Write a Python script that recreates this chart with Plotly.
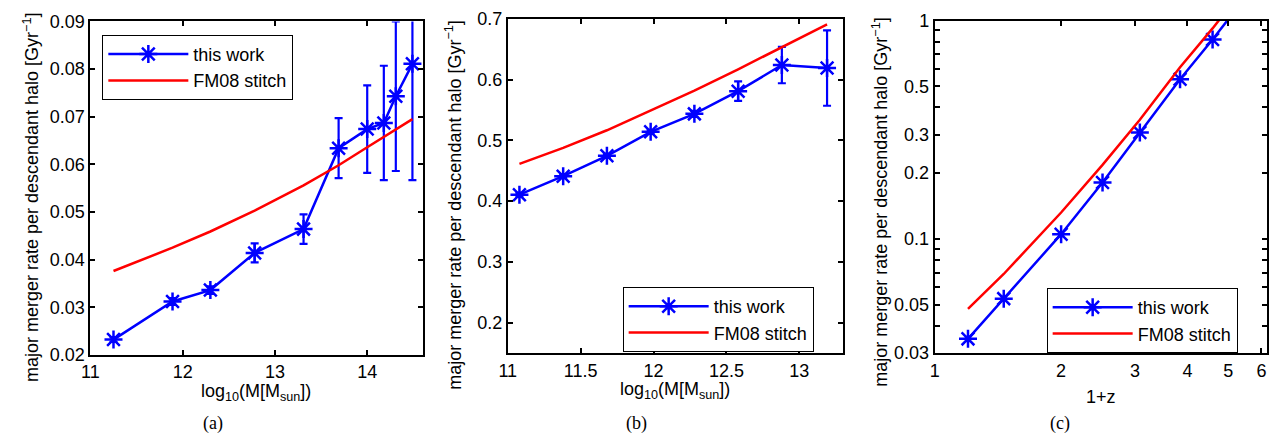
import plotly.graph_objects as go
import numpy as np

W, H = 1281, 447

# ---------------- data ----------------
# panel (a): rate vs halo mass
mass_a = [11.25, 11.89, 12.30, 12.78, 13.31, 13.69, 14.00, 14.18, 14.31, 14.49]
rate_a = [0.0232, 0.0312, 0.0336, 0.0414, 0.0464, 0.0634, 0.0674, 0.0687, 0.0743, 0.0811]
err_a = [0.0005, 0.0007, 0.0008, 0.0020, 0.0031, 0.0063, 0.0092, 0.0120, 0.0157, 0.0244]
fm08_a = [0.0376, 0.0425, 0.0459, 0.0503, 0.0556, 0.0598, 0.0636, 0.0658, 0.0673, 0.0695]

# panel (b): rate vs halo mass (higher redshift)
mass_b = [11.08, 11.38, 11.68, 11.98, 12.28, 12.58, 12.88, 13.19]
rate_b = [0.4105, 0.441, 0.4746, 0.514, 0.5436, 0.581, 0.624, 0.619]
err_b = [0.003, 0.003, 0.003, 0.003, 0.005, 0.016, 0.030, 0.062]
fm08_b = [0.4614, 0.4877, 0.5166, 0.5497, 0.582, 0.617, 0.654, 0.691]

# panel (c): rate vs 1+z
opz_c = [1.20, 1.46, 2.00, 2.51, 3.08, 3.84, 4.59, 5.60]
rate_c = [0.0348, 0.0532, 0.105, 0.181, 0.307, 0.538, 0.818, 1.34]
fm08_c = [0.0478, 0.069, 0.132, 0.218, 0.351, 0.611, 0.92, 1.50]

ticks_a_y = [0.02, 0.03, 0.04, 0.05, 0.06, 0.07, 0.08, 0.09]
ticks_a_x = [11, 12, 13, 14]
ticks_b_y = [0.2, 0.3, 0.4, 0.5, 0.6, 0.7]
ticks_b_x = [11, 11.5, 12, 12.5, 13]
ticks_c_x = [1, 2, 3, 4, 5, 6]
ticks_c_y = [0.03, 0.04, 0.05, 0.06, 0.07, 0.08, 0.09, 0.1, 0.2, 0.3, 0.4, 0.5, 0.6, 0.7, 0.8, 0.9, 1]
labels_c_y = ["0.03", "", "0.05", "", "", "", "", "0.1", "0.2", "0.3", "", "0.5", "", "", "", "", "1"]

BLUE = "#0000FF"
RED = "#FF0000"
FONT = "Liberation Sans, Arial, sans-serif"

# pixel geometry
def px_x(a, b):
    return [a / W, b / W]

def px_y(top, bot):
    return [1 - bot / H, 1 - top / H]

fig = go.Figure()

panels = [
    dict(x=mass_a, y=rate_a, e=err_a, f=fm08_a, ax="x", ay="y", leg="legend"),
    dict(x=mass_b, y=rate_b, e=err_b, f=fm08_b, ax="x2", ay="y2", leg="legend2"),
    dict(x=opz_c, y=rate_c, e=None, f=fm08_c, ax="x3", ay="y3", leg="legend3"),
]

for p in panels:
    err = None
    if p["e"] is not None:
        err = dict(type="data", array=p["e"], visible=True, color=BLUE, thickness=2.2, width=4)
    fig.add_trace(go.Scatter(
        x=p["x"], y=p["y"], mode="lines+markers", name="this work",
        line=dict(color=BLUE, width=2.5),
        marker=dict(symbol="asterisk-open", size=15, color=BLUE, line=dict(color=BLUE, width=2.5)),
        error_y=err, xaxis=p["ax"], yaxis=p["ay"], legend=p["leg"],
    ))
    fig.add_trace(go.Scatter(
        x=p["x"], y=p["f"], mode="lines", name="FM08 stitch",
        line=dict(color=RED, width=2.5),
        xaxis=p["ax"], yaxis=p["ay"], legend=p["leg"],
    ))

common = dict(
    showline=True, linewidth=2, linecolor="black", mirror="ticks",
    ticks="inside", ticklen=5, tickwidth=1.5, tickcolor="black",
    showgrid=False, zeroline=False,
    tickfont=dict(family=FONT, size=18, color="black"),
)

fig.update_layout(
    width=W, height=H,
    margin=dict(l=0, r=0, t=0, b=0),
    paper_bgcolor="white", plot_bgcolor="white",
    showlegend=True,
    xaxis=dict(domain=px_x(82, 416.5), range=[11, 14.6], tickvals=ticks_a_x, anchor="y", **common),
    yaxis=dict(domain=px_y(12, 361), range=[0.02, 0.09], tickvals=ticks_a_y, tickformat=".2f", anchor="x", **common),
    xaxis2=dict(domain=px_x(502.3, 840), range=[11, 13.3], tickvals=ticks_b_x, anchor="y2", **common),
    yaxis2=dict(domain=px_y(9.3, 359), range=[0.15, 0.7], tickvals=ticks_b_y, tickformat=".1f", anchor="x2", **common),
    xaxis3=dict(domain=px_x(932.3, 1267.3), type="log", range=[0, np.log10(6.2)],
                tickvals=ticks_c_x, ticktext=[str(v) for v in ticks_c_x], anchor="y3", **common),
    yaxis3=dict(domain=px_y(11, 359), type="log", range=[np.log10(0.03), 0],
                tickvals=ticks_c_y, ticktext=labels_c_y, anchor="x3", **common),
)

legend_common = dict(
    bgcolor="white", bordercolor="black", borderwidth=1,
    font=dict(family=FONT, size=18, color="black"),
    xanchor="left", yanchor="top", itemwidth=80, tracegroupgap=0,
)
fig.update_layout(
    legend=dict(x=94 / W, y=1 - 26 / H, **legend_common),
    legend2=dict(x=618 / W, y=1 - 290 / H, **legend_common),
    legend3=dict(x=1045 / W, y=1 - 291 / H, **legend_common),
)

ylab = "major merger rate per descendant halo [Gyr<sup>−1</sup>]"
annos = [
    dict(x=22, y=196, text=ylab, textangle=-90),
    dict(x=448, y=204, text=ylab, textangle=-90),
    dict(x=877, y=201, text=ylab, textangle=-90),
    dict(x=249, y=400, text="log<sub>10</sub>(M[M<sub>sun</sub>])"),
    dict(x=671, y=398, text="log<sub>10</sub>(M[M<sub>sun</sub>])"),
    dict(x=1100, y=405, text="1+z"),
]
for a in annos:
    fig.add_annotation(
        x=a["x"] / W, y=1 - a["y"] / H, xref="paper", yref="paper",
        text=a["text"], textangle=a.get("textangle", 0), showarrow=False,
        xanchor="center", yanchor="middle",
        font=dict(family=FONT, size=18, color="black"),
    )
for txt, xc in [("(a)", 205), ("(b)", 632), ("(c)", 1058)]:
    fig.add_annotation(
        x=xc / W, y=1 - 433 / H, xref="paper", yref="paper", text=txt, showarrow=False,
        xanchor="center", yanchor="middle",
        font=dict(family="Liberation Serif, Times New Roman, serif", size=18, color="black"),
    )

fig.write_html(
    "out.html",
    config={"displayModeBar": False},
    post_script="document.body.style.margin='0';document.body.style.overflow='hidden';",
)
